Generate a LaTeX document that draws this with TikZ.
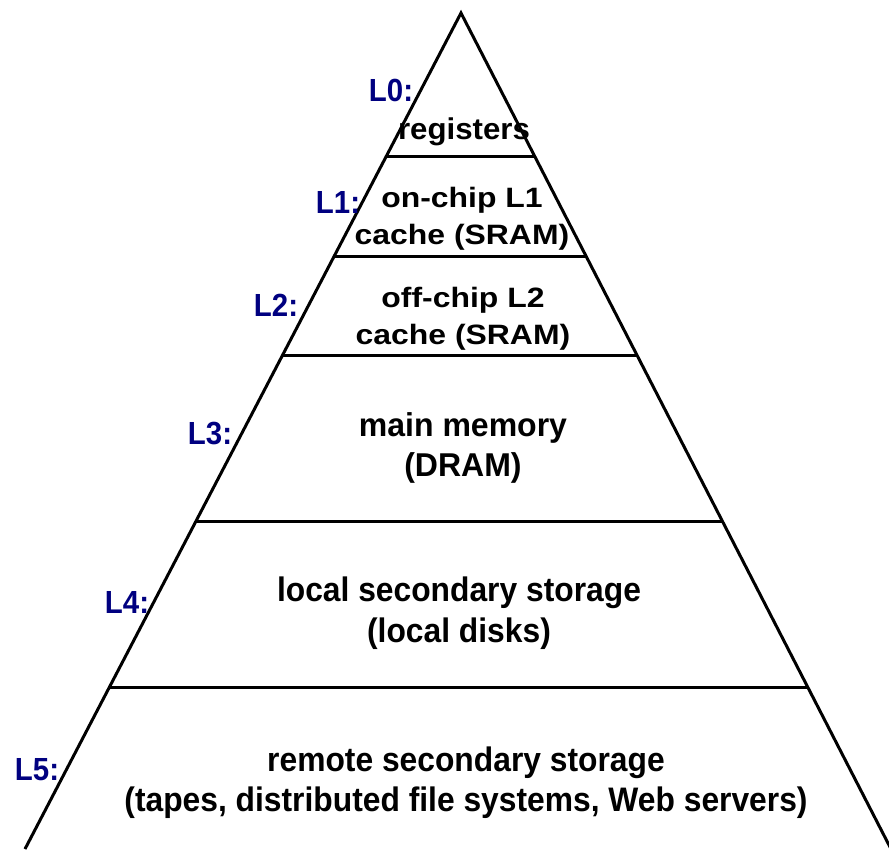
\documentclass[tikz,border=0pt]{standalone}
\usepackage{fontspec}
\setmainfont{Liberation Sans}
% width-adjusted cuts of the same face, one per text group
\newfontfamily\regfont[FakeStretch=1.04]{Liberation Sans}
\newfontfamily\cachefont[FakeStretch=1.14]{Liberation Sans}
\newfontfamily\memfont[FakeStretch=0.97]{Liberation Sans}
\newfontfamily\storefont[FakeStretch=0.935]{Liberation Sans}
\newfontfamily\tagfont[FakeStretch=0.92]{Liberation Sans}
\usetikzlibrary{calc}
\definecolor{tagblue}{RGB}{0,0,128}
\begin{document}
\begin{tikzpicture}[x=1pt,y=-1pt,
  edge/.style={line width=3pt, line join=miter},
  divider/.style={line width=3pt},
  tier/.style={align=center, inner sep=0pt, text=black},
  tag/.style={inner sep=0pt, text=tagblue, font=\tagfont\bfseries\fontsize{32}{38}\selectfont}]
\useasboundingbox (0,0) rectangle (889,849);
\clip (0,0) rectangle (889,849);

% the pyramid
\coordinate (apex) at (461,13);
\coordinate (bl) at (25,849);
\coordinate (br) at (891,849);
\draw[edge] (bl) -- (apex) -- (br);

% level dividers, each running from edge to edge
\foreach \y/\n in {157/a,256/b,355/c,521/d,687/e} {
  \coordinate (l\n) at ($(apex)!{(\y-13)/836}!(bl)$);
  \coordinate (r\n) at ($(apex)!{(\y-13)/836}!(br)$);
  \draw[divider] (l\n) -- (r\n);
}

% contents of each level
\node[tier, font=\regfont\bfseries\fontsize{30}{36}\selectfont] (t0) at (464,132) {registers};
\node[tier, font=\cachefont\bfseries\fontsize{28}{37}\selectfont] (t1) at (462,219) {on-chip L1\\cache (SRAM)};
\node[tier, font=\cachefont\bfseries\fontsize{28}{37}\selectfont] (t2) at (463,319) {off-chip L2\\cache (SRAM)};
\node[tier, font=\memfont\bfseries\fontsize{33}{40}\selectfont] (t3) at (463,448) {main memory\\(DRAM)};
\node[tier, font=\storefont\bfseries\fontsize{34}{41}\selectfont] (t4) at (459,613) {local secondary storage\\(local disks)};
\node[tier, font=\storefont\bfseries\fontsize{34}{40}\selectfont] (t5) at (466,783) {remote secondary storage\\(tapes, distributed file systems, Web servers)};

% level tags along the left edge
\node[tag] (g0) at (391,90) {L0:};
\node[tag] (g1) at (338,202) {L1:};
\node[tag] (g2) at (276,305) {L2:};
\node[tag] (g3) at (210,434) {L3:};
\node[tag] (g4) at (127,602) {L4:};
\node[tag] (g5) at (37,770) {L5:};
\end{tikzpicture}
\end{document}
